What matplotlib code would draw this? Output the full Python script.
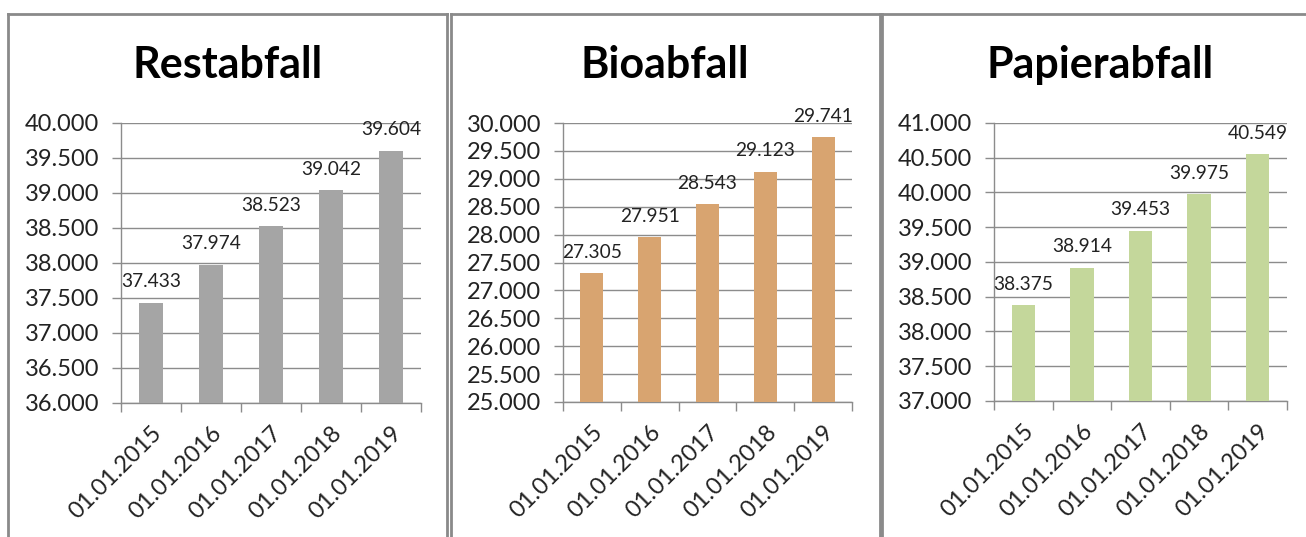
import matplotlib
matplotlib.use("Agg")
import matplotlib.pyplot as plt
from matplotlib.lines import Line2D
from matplotlib.ticker import FuncFormatter, MultipleLocator

dates = ["01.01.2015", "01.01.2016", "01.01.2017", "01.01.2018", "01.01.2019"]
titles = ["Restabfall", "Bioabfall", "Papierabfall"]
restabfall = [37433, 37974, 38523, 39042, 39604]
bioabfall = [27305, 27951, 28543, 29123, 29741]
papierabfall = [38375, 38914, 39453, 39975, 40549]
series = [restabfall, bioabfall, papierabfall]
ylims = [(36000, 40000), (25000, 30000), (37000, 41000)]
colors = ["#A5A5A5", "#D8A470", "#C4D79B"]

W, H = 1306, 537
plt.rcParams["font.family"] = ["Lato", "DejaVu Sans"]
fig = plt.figure(figsize=(W / 100, H / 100), dpi=100)

# axes pixel boxes: left, right, top, bottom
boxes = [(121, 421, 123, 403), (563, 852, 123, 402), (994, 1287, 123, 401)]
frames = [(8, 447), (451, 880), (882, 1310)]
title_x = [228, 665, 1100]

def fmt(v, pos=None):
    return f"{int(round(v)):,}".replace(",", ".")

grid_c = "#8C8C8C"
for i in range(3):
    l, r, t, b = boxes[i]
    ax = fig.add_axes([l / W, (H - b) / H, (r - l) / W, (b - t) / H])
    x = list(range(len(dates)))
    ax.bar(x, series[i], width=0.4, color=colors[i], zorder=3)
    ax.set_xlim(-0.5, len(dates) - 0.5)
    ax.set_ylim(*ylims[i])
    ax.yaxis.set_major_locator(MultipleLocator(500))
    ax.yaxis.set_major_formatter(FuncFormatter(fmt))
    ax.grid(axis="y", color=grid_c, lw=1.0, zorder=0)
    for s in ["top", "right"]:
        ax.spines[s].set_visible(False)
    for s in ["left", "bottom"]:
        ax.spines[s].set_color(grid_c)
        ax.spines[s].set_linewidth(1.0)
    ax.tick_params(axis="y", length=6.5, width=1.0, color=grid_c, labelsize=17,
                   labelcolor="#222222", pad=9)
    ax.set_xticks([k - 0.5 for k in range(len(dates) + 1)], minor=False)
    ax.set_xticklabels([""] * (len(dates) + 1))
    ax.tick_params(axis="x", which="major", length=6.5, width=1.0, color=grid_c)
    ax.set_xticks(x, minor=True)
    ax.set_xticklabels(dates, minor=True, rotation=45, ha="right",
                       rotation_mode="anchor", fontsize=17, color="#222222")
    ax.tick_params(axis="x", which="minor", length=0, pad=14)
    for k, v in enumerate(series[i]):
        ax.annotate(fmt(v), (k, v), xytext=(0, 9), textcoords="offset points",
                    ha="center", va="bottom", fontsize=13.8, color="#222222",
                    zorder=4)
    fig.text(title_x[i] / W, 1 - 65 / H, titles[i], ha="center", va="center",
             fontsize=31, fontweight="bold", color="black")

# panel frames
fc = "#8A8A8A"
for fl, fr in frames:
    top = 1 - 14 / H
    fig.add_artist(Line2D([fl / W, fl / W], [0, top], color=fc, lw=2.0))
    fig.add_artist(Line2D([fr / W, fr / W], [0, top], color=fc, lw=2.0))
    fig.add_artist(Line2D([fl / W, fr / W], [top, top], color=fc, lw=2.0))

fig.savefig("out.png", dpi=100)
